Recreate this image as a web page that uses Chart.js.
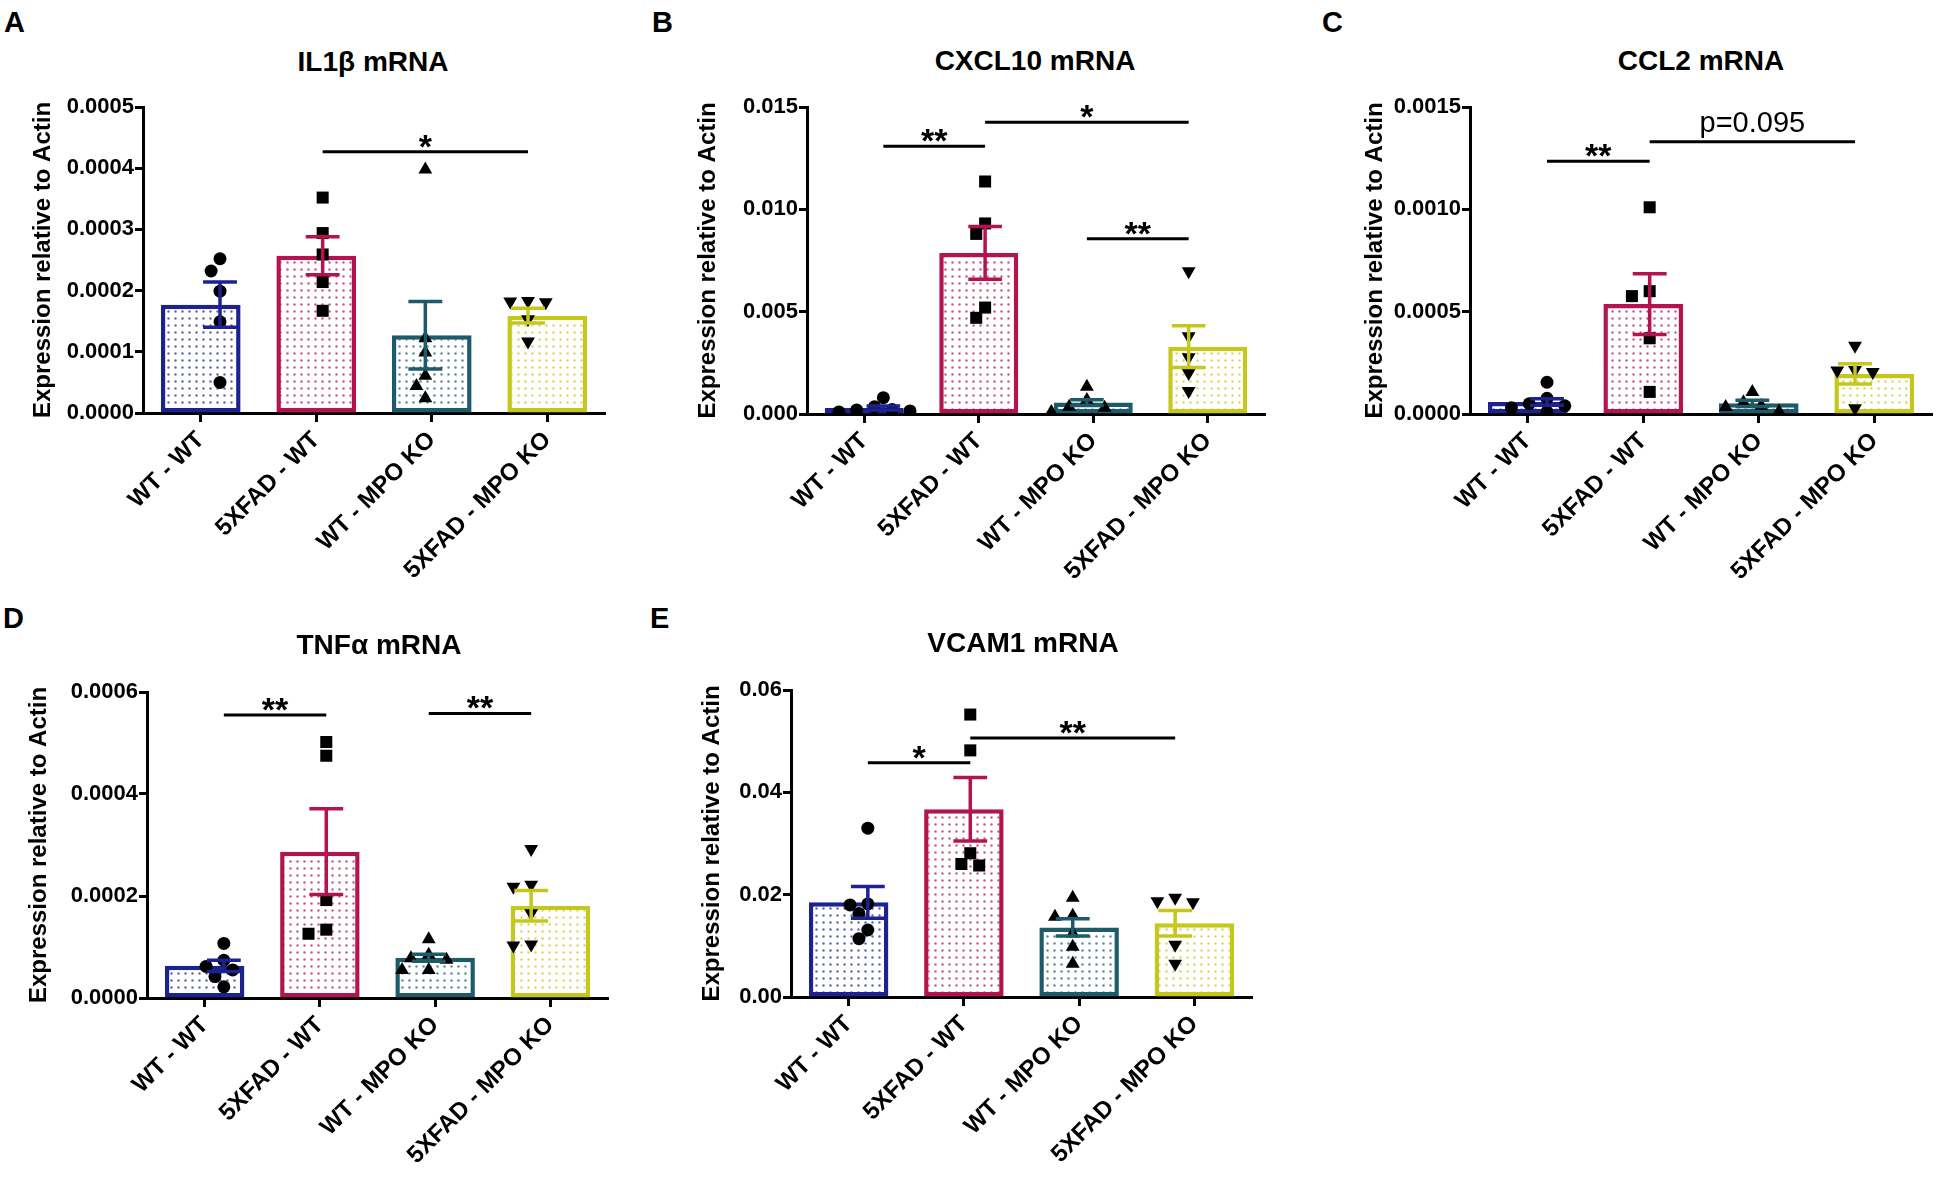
<!DOCTYPE html>
<html>
<head>
<meta charset="utf-8">
<script src="https://cdn.jsdelivr.net/npm/chart.js@4.4.1/dist/chart.umd.min.js"></script>
<style>
  body { margin: 0; background: #fff; width: 1950px; height: 1189px; position: relative; overflow: hidden;
         font-family: "Liberation Sans", Arial, sans-serif; }
  .panel { position: absolute; }
  .letter { position: absolute; font-weight: bold; font-size: 29px; line-height: 29px; }
  .title { position: absolute; font-weight: bold; font-size: 28px; line-height: 32px; white-space: nowrap;
           transform: translate(-50%, -50%); }
</style>
</head>
<body>
<script>
// groups shared by every panel
const groups = ['WT - WT', '5XFAD - WT', 'WT - MPO KO', '5XFAD - MPO KO'];

// A - IL1b
const il1bMean = [0.000177, 0.000257, 0.000127, 0.000159];
const il1bSem = [0.000037, 0.000031, 0.000055, 0.000012];
const il1bPoints = [
  [0.000252, 0.000232, 0.000199, 0.000149, 0.000050],
  [0.000352, 0.000294, 0.000259, 0.000214, 0.000167],
  [0.000398, 0.000122, 0.000099, 0.000061, 0.000044, 0.000024],
  [0.000183, 0.000182, 0.000181, 0.000153, 0.000117]
];
const il1bTicks = ['0.0000', '0.0001', '0.0002', '0.0003', '0.0004', '0.0005'];
const il1bSig = [{ from: 1, to: 3, y: 0.000427, label: '*' }];

// B - CXCL10
const cxcl10Mean = [0.00029, 0.00787, 0.00056, 0.00329];
const cxcl10Sem = [0.0001, 0.00129, 0.00014, 0.00102];
const cxcl10Points = [
  [0.0008, 0.00035, 0.00022, 0.0002, 0.00015, 0.0001],
  [0.01136, 0.00931, 0.0088, 0.0052, 0.0047],
  [0.00133, 0.00068, 0.00036, 0.0003, 0.0001],
  [0.00697, 0.0038, 0.00277, 0.002, 0.00112]
];
const cxcl10Ticks = ['0.000', '0.005', '0.010', '0.015'];
const cxcl10Sig = [
  { from: 0, to: 1, y: 0.01308, label: '**' },
  { from: 1, to: 3, y: 0.01426, label: '*' },
  { from: 2, to: 3, y: 0.00856, label: '**' }
];

// C - CCL2
const ccl2Mean = [0.000059, 0.000537, 0.000052, 0.000196];
const ccl2Sem = [0.000016, 0.000148, 0.000015, 0.00005];
const ccl2Points = [
  [0.000155, 0.000077, 0.00005, 0.00004, 0.00003, 0.00001],
  [0.00101, 0.0006, 0.000576, 0.00037, 0.000108],
  [0.000108, 0.000058, 0.00004, 0.000034, 0.000012],
  [0.000333, 0.000215, 0.000212, 0.000205, 0.000028]
];
const ccl2Ticks = ['0.0000', '0.0005', '0.0010', '0.0015'];
const ccl2Sig = [
  { from: 0, to: 1, y: 0.001235, label: '**' },
  { from: 1, to: 3, y: 0.00133, label: 'p=0.095' }
];

// D - TNFa
const tnfaMean = [0.000063, 0.000287, 0.000079, 0.000181];
const tnfaSem = [0.000011, 0.000084, 0.000007, 0.00003];
const tnfaPoints = [
  [0.000107, 0.000074, 0.000062, 0.000055, 0.000042, 0.000022],
  [0.000502, 0.000475, 0.000192, 0.000134, 0.000126],
  [0.000115, 0.000085, 0.000078, 0.000075, 0.000055, 0.000055],
  [0.000292, 0.000222, 0.000218, 0.000166, 0.000105, 0.000103]
];
const tnfaTicks = ['0.0000', '0.0002', '0.0004', '0.0006'];
const tnfaSig = [
  { from: 0, to: 1, y: 0.000555, label: '**' },
  { from: 2, to: 3, y: 0.000558, label: '**' }
];

// E - VCAM1
const vcam1Mean = [0.0185, 0.0367, 0.0136, 0.0144];
const vcam1Sem = [0.0031, 0.0062, 0.0017, 0.0025];
const vcam1Points = [
  [0.033, 0.0182, 0.018, 0.0163, 0.0131, 0.0114],
  [0.0552, 0.0482, 0.0281, 0.026, 0.0257],
  [0.0194, 0.0159, 0.0157, 0.0124, 0.0098, 0.0065],
  [0.0194, 0.0187, 0.0185, 0.0102, 0.0065]
];
const vcam1Ticks = ['0.00', '0.02', '0.04', '0.06'];
const vcam1Sig = [
  { from: 0, to: 1, y: 0.0458, label: '*' },
  { from: 1, to: 3, y: 0.0506, label: '**' }
];

const yTitle = 'Expression relative to Actin';
const barColors = ['#1c2391', '#b3144f', '#1d5a6a', '#c6c71c'];
const markerStyles = [
  { pointStyle: 'circle', radius: 6.5, rotation: 0 },
  { pointStyle: 'rect', radius: 8.5, rotation: 0 },
  { pointStyle: 'triangle', radius: 8, rotation: 0 },
  { pointStyle: 'triangle', radius: 8, rotation: 180 }
];

const panels = [
  { letter: 'A', title: 'IL1β mRNA', mean: il1bMean, sem: il1bSem, points: il1bPoints, ticks: il1bTicks, sig: il1bSig },
  { letter: 'B', title: 'CXCL10 mRNA', mean: cxcl10Mean, sem: cxcl10Sem, points: cxcl10Points, ticks: cxcl10Ticks, sig: cxcl10Sig },
  { letter: 'C', title: 'CCL2 mRNA', mean: ccl2Mean, sem: ccl2Sem, points: ccl2Points, ticks: ccl2Ticks, sig: ccl2Sig },
  { letter: 'D', title: 'TNFα mRNA', mean: tnfaMean, sem: tnfaSem, points: tnfaPoints, ticks: tnfaTicks, sig: tnfaSig },
  { letter: 'E', title: 'VCAM1 mRNA', mean: vcam1Mean, sem: vcam1Sem, points: vcam1Points, ticks: vcam1Ticks, sig: vcam1Sig }
];

// page layout: plot area box, y axis width, title centre, letter corner
const layout = {
  A: { left: 143, top: 107, right: 605, bottom: 413, axisW: 118, tx: 373, ty: 62, lx: 4, ly: 8 },
  B: { left: 807, top: 107, right: 1265, bottom: 414, axisW: 117, tx: 1035, ty: 61, lx: 652, ly: 8 },
  C: { left: 1470, top: 107, right: 1932, bottom: 414, axisW: 113, tx: 1701, ty: 61, lx: 1322, ly: 8 },
  D: { left: 147, top: 692, right: 608, bottom: 998, axisW: 126, tx: 379, ty: 645, lx: 3, ly: 604 },
  E: { left: 791, top: 690, right: 1252, bottom: 997, axisW: 97, tx: 1023, ty: 643, lx: 650, ly: 604 }
};
const padTop = 30, padRight = 20, xAxisH = 230;

Chart.defaults.font.family = '"Liberation Sans", Arial, sans-serif';
Chart.defaults.color = '#000';

function dotPattern(color) {
  const c = document.createElement('canvas');
  c.width = 7; c.height = 7;
  const g = c.getContext('2d');
  g.fillStyle = '#fff';
  g.fillRect(0, 0, 7, 7);
  g.globalAlpha = 0.7;
  g.fillStyle = color;
  g.beginPath();
  g.arc(3.5, 3.5, 1.2, 0, Math.PI * 2);
  g.fill();
  return g.createPattern(c, 'repeat');
}

// simple column scatter: push points sideways when they would overlap
function swarm(values, pxPerUnit) {
  const d = 13, step = 10;
  const placed = [];
  return values.map(v => {
    const y = v * pxPerUnit;
    for (let k = 0; k < 12; k++) {
      const x = (k % 2 ? -1 : 1) * Math.ceil(k / 2) * step;
      if (placed.every(p => Math.hypot(p.x - x, p.y - y) >= d)) {
        placed.push({ x, y });
        return x;
      }
    }
    return 0;
  });
}

const overlay = {
  id: 'overlay',
  afterDatasetsDraw(chart) {
    const p = chart.options.plugins.overlay;
    const { ctx, scales: { x2, y } } = chart;
    ctx.save();
    ctx.lineCap = 'butt';
    // error bars (mean +/- sem)
    p.mean.forEach((m, i) => {
      const cx = x2.getPixelForValue(i);
      const half = x2.getPixelForValue(0.165) - x2.getPixelForValue(0);
      const yt = y.getPixelForValue(m + p.sem[i]);
      const yb = y.getPixelForValue(m - p.sem[i]);
      ctx.strokeStyle = barColors[i];
      ctx.lineWidth = 3.5;
      ctx.beginPath();
      ctx.moveTo(cx, yt); ctx.lineTo(cx, yb);
      ctx.moveTo(cx - half, yt); ctx.lineTo(cx + half, yt);
      ctx.moveTo(cx - half, yb); ctx.lineTo(cx + half, yb);
      ctx.stroke();
    });
    // significance bars
    p.sig.forEach(s => {
      const x1 = x2.getPixelForValue(s.from);
      const x3 = x2.getPixelForValue(s.to);
      const yy = y.getPixelForValue(s.y);
      ctx.strokeStyle = '#000';
      ctx.lineWidth = 3;
      ctx.beginPath();
      ctx.moveTo(x1, yy); ctx.lineTo(x3, yy);
      ctx.stroke();
      ctx.fillStyle = '#000';
      ctx.textAlign = 'center';
      ctx.textBaseline = 'alphabetic';
      if (s.label.startsWith('*')) {
        ctx.font = 'bold 34px "Liberation Sans", Arial, sans-serif';
        ctx.fillText(s.label, (x1 + x3) / 2, yy + 6);
      } else {
        ctx.font = '29px "Liberation Sans", Arial, sans-serif';
        ctx.fillText(s.label, (x1 + x3) / 2, yy - 10);
      }
    });
    ctx.restore();
  }
};

panels.forEach(pn => {
  const lay = layout[pn.letter];

  const letter = document.createElement('div');
  letter.className = 'letter';
  letter.textContent = pn.letter;
  letter.style.left = lay.lx + 'px';
  letter.style.top = lay.ly + 'px';
  document.body.appendChild(letter);

  const title = document.createElement('div');
  title.className = 'title';
  title.textContent = pn.title;
  title.style.left = lay.tx + 'px';
  title.style.top = lay.ty + 'px';
  document.body.appendChild(title);

  const box = document.createElement('div');
  box.className = 'panel';
  box.style.left = (lay.left - lay.axisW) + 'px';
  box.style.top = (lay.top - padTop) + 'px';
  box.style.width = (lay.axisW + lay.right - lay.left + padRight) + 'px';
  box.style.height = (padTop + lay.bottom - lay.top + xAxisH) + 'px';
  const canvas = document.createElement('canvas');
  box.appendChild(canvas);
  document.body.appendChild(box);

  const tickVals = pn.ticks.map(Number);
  const yMax = tickVals[tickVals.length - 1];
  const pxPerUnit = (lay.bottom - lay.top) / yMax;
  const catPx = (lay.right - lay.left) / groups.length;

  const datasets = [{
    type: 'bar',
    data: pn.mean,
    backgroundColor: barColors.map(dotPattern),
    borderColor: barColors,
    borderWidth: 4.5,
    borderSkipped: false,
    grouped: false,
    barPercentage: 0.69,
    categoryPercentage: 1,
    order: 2
  }];
  pn.points.forEach((vals, gi) => {
    const offs = swarm(vals, pxPerUnit);
    const m = markerStyles[gi];
    datasets.push({
      type: 'scatter',
      xAxisID: 'x2',
      data: vals.map((v, k) => ({ x: gi + offs[k] / catPx, y: v })),
      pointStyle: m.pointStyle,
      pointRadius: m.radius,
      pointHoverRadius: m.radius,
      pointRotation: m.rotation,
      backgroundColor: '#000',
      borderColor: '#000',
      borderWidth: 0,
      order: 1
    });
  });

  new Chart(canvas, {
    type: 'bar',
    data: { labels: groups, datasets },
    plugins: [overlay],
    options: {
      responsive: true,
      maintainAspectRatio: false,
      animation: false,
      events: [],
      layout: { padding: { top: padTop, right: padRight, left: 0, bottom: 0 } },
      plugins: {
        legend: { display: false },
        tooltip: { enabled: false },
        overlay: { mean: pn.mean, sem: pn.sem, sig: pn.sig }
      },
      scales: {
        x: {
          type: 'category',
          offset: true,
          afterFit: s => { s.height = xAxisH; },
          border: { display: true, color: '#000', width: 3 },
          grid: { display: true, offset: false, drawOnChartArea: false, drawTicks: true,
                  tickLength: 9, tickWidth: 3, tickColor: '#000' },
          ticks: { autoSkip: false, minRotation: 45, maxRotation: 45, padding: 4,
                   font: { size: 24, weight: 'bold' }, color: '#000' }
        },
        x2: { type: 'linear', min: -0.5, max: 3.5, display: false },
        y: {
          min: 0,
          max: yMax,
          afterFit: s => { s.width = lay.axisW; },
          afterBuildTicks: s => { s.ticks = tickVals.map(v => ({ value: v })); },
          border: { display: true, color: '#000', width: 3 },
          grid: { display: true, drawOnChartArea: false, drawTicks: true,
                  tickLength: 8, tickWidth: 3, tickColor: '#000' },
          ticks: { padding: 1, font: { size: 22, weight: 'bold' }, color: '#000',
                   callback: (v, i) => pn.ticks[i] },
          title: { display: true, text: yTitle, font: { size: 24, weight: 'bold' }, color: '#000' }
        }
      }
    }
  });
});
</script>
</body>
</html>
